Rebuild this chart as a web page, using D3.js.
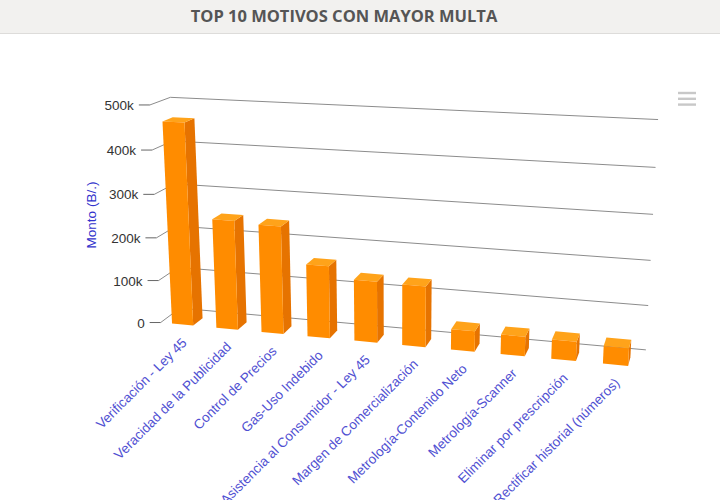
<!DOCTYPE html>
<html>
	<head>
		<meta charset="utf-8">
		<script type="text/javascript" src="https://cdn.jsdelivr.net/npm/d3@7/dist/d3.min.js"></script>
		<style>
		body {
			margin: 0;
			background-color: white;
		}
		.chart text {
			font-family: "Liberation Sans", Arial, sans-serif;
		}
		</style>
	</head>
	<body>
		<script type="text/javascript">
			var categories = ["Verificación - Ley 45", "Veracidad de la Publicidad", "Control de Precios",
				"Gas-Uso Indebido", "Asistencia al Consumidor - Ley 45", "Margen de Comercialización",
				"Metrología-Contenido Neto", "Metrología-Scanner", "Eliminar por prescripción",
				"Rectificar historial (números)"];
			var montos = [465000, 252000, 247000, 165000, 139000, 137000, 46000, 44000, 43000, 39000];
			var yTicks = [0, 100000, 200000, 300000, 400000, 500000];
			var yTickLabels = ["0", "100k", "200k", "300k", "400k", "500k"];

			var width = 720,
				height = 500;

			// plot area and 3d view (alpha/beta like a tilted column chart)
			var plot = {left: 141, top: 108.5, width: 510, height: 236};
			var view = {alpha: 15, beta: 15, depth: 50, dist: 1295, barDepth: 25};

			var rad = Math.PI / 180,
				cosA = Math.cos(view.alpha * rad),
				sinA = Math.sin(view.alpha * rad),
				cosB = Math.cos(-view.beta * rad),
				sinB = Math.sin(-view.beta * rad);

			function project(x, y, z) {
				var X = x - plot.width / 2,
					Y = y - plot.height / 2,
					Z = z - view.depth / 2;
				var rx = cosB * X - sinB * Z,
					ry = -sinA * sinB * X + cosA * Y - cosB * sinA * Z,
					rz = cosA * sinB * X + sinA * Y + cosA * cosB * Z;
				var p = view.dist / (rz + view.depth / 2 + view.dist);
				return [plot.left + plot.width / 2 + rx * p, plot.top + plot.height / 2 + ry * p];
			}

			var x = d3.scaleBand()
				.domain(categories)
				.range([0, plot.width])
				.paddingInner(0.52)
				.paddingOuter(0.26);

			var y = d3.scaleLinear()
				.domain([0, 500000])
				.range([plot.height, 0]);

			var line = d3.line();

			var svg = d3.select("body").append("svg")
				.attr("class", "chart")
				.attr("width", width)
				.attr("height", height);

			// header band
			svg.append("rect")
				.attr("width", width)
				.attr("height", 33)
				.attr("fill", "#f2f1ef");
			svg.append("line")
				.attr("x1", 0).attr("x2", width)
				.attr("y1", 33.5).attr("y2", 33.5)
				.attr("stroke", "#dddcda");
			svg.append("text")
				.attr("x", 344)
				.attr("y", 22)
				.attr("text-anchor", "middle")
				.style("font-family", "'Open Sans', sans-serif")
				.style("font-weight", "bold")
				.style("font-size", "16.5px")
				.attr("fill", "#555")
				.text("TOP 10 MOTIVOS CON MAYOR MULTA");

			// grid: front-left -> back-left -> back-right
			var grid = svg.append("g");
			yTicks.forEach(function(t, i) {
				var yy = y(t);
				var front = project(0, yy, 0);
				grid.append("path")
					.attr("d", line([front, project(0, yy, view.depth), project(plot.width, yy, view.depth)]))
					.attr("fill", "none")
					.attr("stroke", "#8c8c8c")
					.attr("stroke-width", 1);
				grid.append("line")
					.attr("x1", front[0] - 11).attr("x2", front[0])
					.attr("y1", front[1]).attr("y2", front[1])
					.attr("stroke", "#666")
					.attr("stroke-width", 1);
				grid.append("text")
					.attr("x", front[0] - 16)
					.attr("y", front[1] + 5)
					.attr("text-anchor", "end")
					.style("font-size", "13.5px")
					.attr("fill", "#333")
					.text(yTickLabels[i]);
			});

			svg.append("text")
				.attr("transform", "translate(96,215) rotate(-90)")
				.attr("text-anchor", "middle")
				.style("font-size", "13.5px")
				.attr("fill", "#3333cc")
				.text("Monto (B/.)");

			// bars as boxes: side, top, front
			var bw = x.bandwidth(), zd = view.barDepth;
			var bars = svg.selectAll("g.bar")
				.data(categories.map(function(c, i) { return {cat: c, value: montos[i]}; }))
			  .enter().append("g")
				.attr("class", "bar");

			bars.append("path")
				.attr("fill", "#e67300")
				.attr("d", function(d) {
					var x1 = x(d.cat) + bw, y0 = y(0), y1 = y(d.value);
					return line([project(x1, y1, 0), project(x1, y1, zd), project(x1, y0, zd), project(x1, y0, 0)]) + "Z";
				});
			bars.append("path")
				.attr("fill", "#ffa31a")
				.attr("d", function(d) {
					var x0 = x(d.cat), x1 = x0 + bw, y1 = y(d.value);
					return line([project(x0, y1, 0), project(x1, y1, 0), project(x1, y1, zd), project(x0, y1, zd)]) + "Z";
				});
			bars.append("path")
				.attr("fill", "#ff8c00")
				.attr("d", function(d) {
					var x0 = x(d.cat), x1 = x0 + bw, y0 = y(0), y1 = y(d.value);
					return line([project(x0, y1, 0), project(x1, y1, 0), project(x1, y0, 0), project(x0, y0, 0)]) + "Z";
				});

			// category labels
			svg.append("g").selectAll("text")
				.data(categories)
			  .enter().append("text")
				.attr("transform", function(d) {
					var p = project(x(d) + bw / 2, plot.height, 0);
					return "translate(" + (p[0] + 5) + "," + (p[1] + 19) + ") rotate(-45)";
				})
				.attr("text-anchor", "end")
				.style("font-size", "13.5px")
				.attr("fill", "#5050d2")
				.text(function(d) { return d; });

			// menu icon
			svg.append("g").selectAll("line")
				.data([0, 1, 2])
			  .enter().append("line")
				.attr("x1", 678).attr("x2", 696)
				.attr("y1", function(d) { return 93 + d * 5.8; })
				.attr("y2", function(d) { return 93 + d * 5.8; })
				.attr("stroke", "#c8c8c8")
				.attr("stroke-width", 2.4);
		</script>
	</body>
</html>
